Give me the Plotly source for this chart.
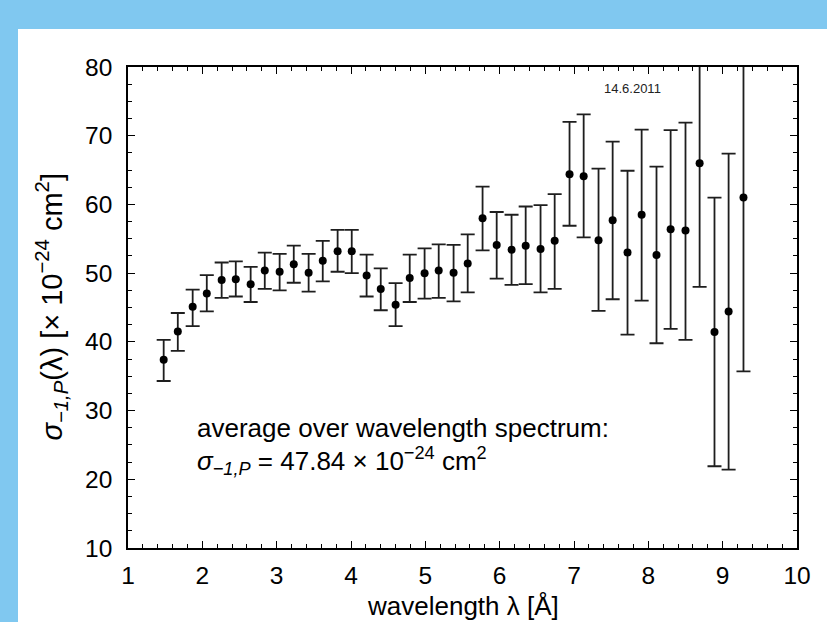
import plotly.graph_objects as go

# ---- data ----
wavelength = [1.48, 1.67, 1.87, 2.06, 2.26, 2.45, 2.65, 2.84, 3.04, 3.23,
              3.43, 3.62, 3.82, 4.01, 4.21, 4.40, 4.60, 4.79, 4.99, 5.18,
              5.38, 5.57, 5.77, 5.96, 6.16, 6.35, 6.55, 6.74, 6.94, 7.13,
              7.33, 7.52, 7.72, 7.91, 8.11, 8.30, 8.50, 8.69, 8.89, 9.08,
              9.28]
sigma = [37.4, 41.5, 45.1, 47.05, 49.0, 49.1, 48.4, 50.4, 50.2, 51.3,
         50.05, 51.8, 53.2, 53.2, 49.65, 47.7, 45.4, 49.3, 50.0, 50.4,
         50.05, 51.4, 58.0, 54.1, 53.4, 54.0, 53.5, 54.7, 64.4, 64.1,
         54.8, 57.7, 53.0, 58.5, 52.65, 56.4, 56.2, 66.0, 41.45, 44.4,
         61.0]
sigma_upper = [40.3, 44.2, 47.6, 49.7, 51.55, 51.7, 50.9, 53.0, 52.8, 54.0,
               52.8, 54.7, 56.3, 56.3, 52.7, 50.7, 48.55, 52.7, 53.6, 54.2,
               54.1, 55.65, 62.6, 58.9, 58.5, 59.7, 59.9, 61.5, 72.0, 73.1,
               65.2, 69.15, 64.9, 70.9, 65.5, 70.8, 71.9, 84.0, 61.0, 67.4,
               86.3]
sigma_lower = [34.3, 38.7, 42.3, 44.45, 46.4, 46.6, 45.8, 47.7, 47.5, 48.6,
               47.3, 48.8, 50.2, 50.0, 46.6, 44.6, 42.3, 45.8, 46.3, 46.4,
               45.9, 47.2, 53.3, 49.2, 48.3, 48.4, 47.2, 47.7, 56.9, 55.2,
               44.5, 46.2, 41.05, 46.0, 39.8, 41.9, 40.3, 48.0, 21.9, 21.4,
               35.7]

x_ticks = [1, 2, 3, 4, 5, 6, 7, 8, 9, 10]
y_ticks = [10, 20, 30, 40, 50, 60, 70, 80]

avg_line1 = "average over wavelength spectrum:"
avg_line2 = "<i>σ</i><sub><i>−1,P</i></sub> = 47.84 × 10<sup>−24</sup> cm<sup>2</sup>"
date_text = "14.6.2011"
x_title = "wavelength λ [Å]"
y_title = "<i>σ</i><sub><i>−1,P</i></sub>(λ) [× 10<sup>−24</sup> cm<sup>2</sup>]"

err_plus = [u - v for u, v in zip(sigma_upper, sigma)]
err_minus = [v - l for v, l in zip(sigma, sigma_lower)]

FONT = "Liberation Sans, Arial, sans-serif"
BLUE = "#80C8F0"

W, H = 827, 622
L, R, T, B = 128, 30, 67, 74
pw, ph = W - L - R, H - T - B

def px_x(p):
    return (p - L) / pw

def px_y(p):
    return (H - B - p) / ph

fig = go.Figure()
fig.add_trace(go.Scatter(
    x=wavelength, y=sigma, mode="markers",
    marker=dict(color="black", size=8),
    error_y=dict(type="data", symmetric=False, array=err_plus,
                 arrayminus=err_minus, color="#1e1e1e", thickness=1.8, width=7),
    showlegend=False, cliponaxis=True,
))

axis_common = dict(
    showgrid=False, zeroline=False, showline=True, linecolor="black",
    linewidth=1.5, mirror="ticks", ticks="inside", tickcolor="black",
    tickwidth=1.3, ticklen=7,
    tickfont=dict(family=FONT, size=24.5, color="black"),
)

fig.update_xaxes(range=[1, 10], tickvals=x_ticks, **axis_common,
                 minor=dict(dtick=0.2, ticks="inside", ticklen=4,
                            tickcolor="black", tickwidth=1.1),
                 ticklabelstandoff=5)
fig.update_yaxes(range=[10, 80], tickvals=y_ticks, **axis_common,
                 minor=dict(dtick=2.5, ticks="inside", ticklen=4,
                            tickcolor="black", tickwidth=1.1),
                 ticklabelstandoff=9)

fig.add_annotation(x=1.9, y=27.4, xref="x", yref="y", text=avg_line1,
                   showarrow=False, xanchor="left", yanchor="middle",
                   font=dict(family=FONT, size=26, color="black"))
fig.add_annotation(x=1.9, y=22.6, xref="x", yref="y", text=avg_line2,
                   showarrow=False, xanchor="left", yanchor="middle",
                   font=dict(family=FONT, size=26, color="black"))
fig.add_annotation(x=7.79, y=76.9, xref="x", yref="y", text=date_text,
                   showarrow=False, xanchor="center", yanchor="middle",
                   font=dict(family=FONT, size=13, color="#222"))
fig.add_annotation(x=0.5, y=px_y(H), xref="paper", yref="paper",
                   text=x_title, showarrow=False, xanchor="center",
                   yanchor="bottom", borderpad=0,
                   font=dict(family=FONT, size=26, color="black"))
fig.add_annotation(x=px_x(51), y=0.5, xref="paper", yref="paper",
                   text=y_title, showarrow=False, textangle=-90,
                   xanchor="center", yanchor="middle",
                   font=dict(family=FONT, size=29, color="black"))

# light-blue frame (top band and left band) behind everything
fig.add_shape(type="rect", xref="paper", yref="paper",
              x0=px_x(0), x1=px_x(W), y0=px_y(29), y1=px_y(0),
              fillcolor=BLUE, line_width=0, layer="below")
fig.add_shape(type="rect", xref="paper", yref="paper",
              x0=px_x(0), x1=px_x(18), y0=px_y(H), y1=px_y(0),
              fillcolor=BLUE, line_width=0, layer="below")

fig.update_layout(
    width=W, height=H,
    margin=dict(l=L, r=R, t=T, b=B, pad=0),
    paper_bgcolor="white", plot_bgcolor="white",
    font=dict(family=FONT, color="black"),
)

fig.write_html("out.html")
